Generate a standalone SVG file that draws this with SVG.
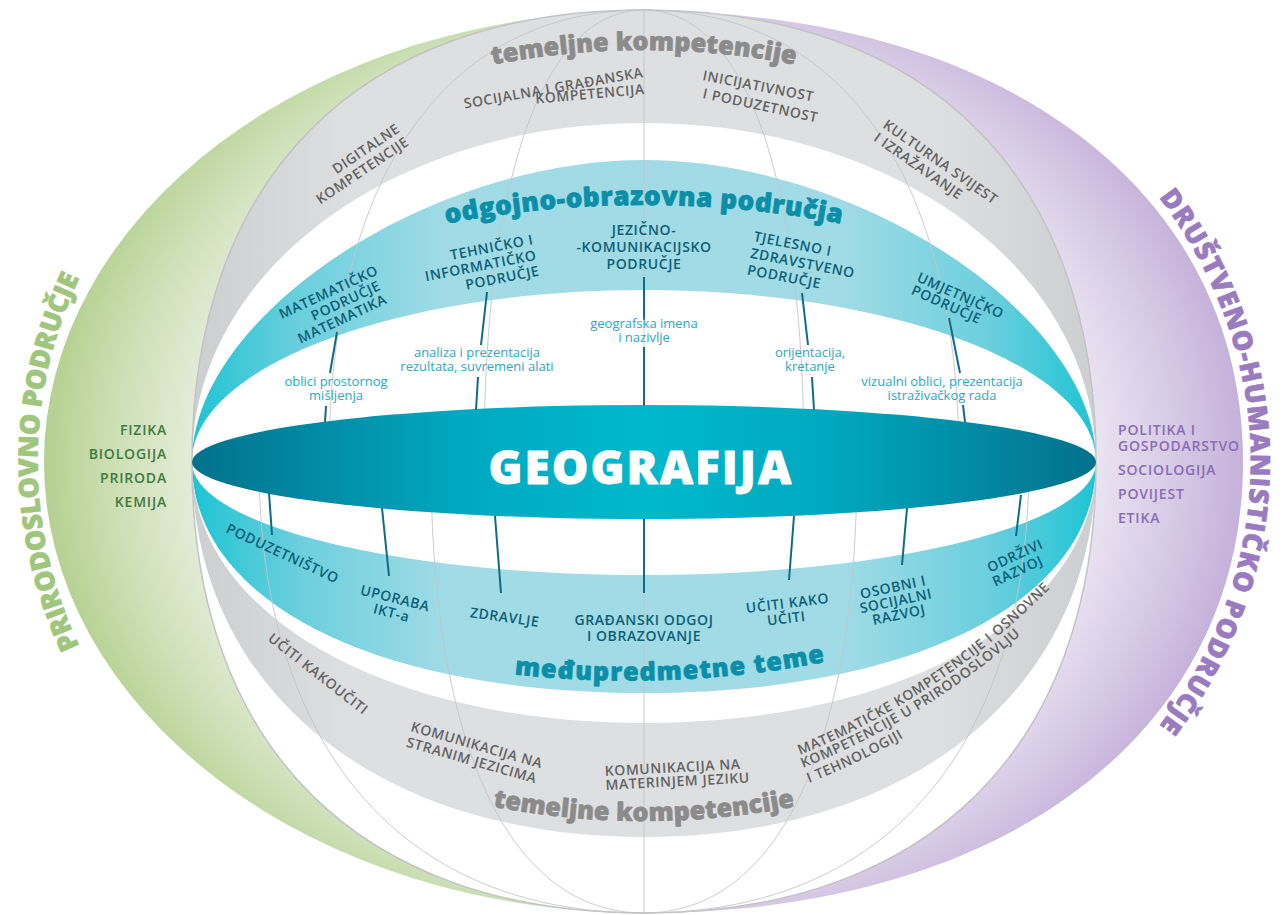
<svg xmlns="http://www.w3.org/2000/svg" width="1283" height="915" viewBox="0 0 1283 915">
<defs>
<radialGradient id="gGreen" gradientUnits="userSpaceOnUse" cx="644" cy="462" r="600" gradientTransform="translate(0 69.3) scale(1 0.85)">
<stop offset="0.7" stop-color="#eef3e7"/><stop offset="0.76" stop-color="#e3ebd6"/><stop offset="0.88" stop-color="#cde0b6"/><stop offset="1" stop-color="#b5d091"/>
</radialGradient>
<radialGradient id="gPurple" gradientUnits="userSpaceOnUse" cx="644" cy="462" r="600" gradientTransform="translate(0 69.3) scale(1 0.85)">
<stop offset="0.7" stop-color="#f2eef7"/><stop offset="0.76" stop-color="#e9e2f1"/><stop offset="0.88" stop-color="#d8cbe6"/><stop offset="1" stop-color="#c5b1da"/>
</radialGradient>
<linearGradient id="gGray" x1="0" y1="0" x2="1" y2="0">
<stop offset="0" stop-color="#cdced0"/><stop offset="0.18" stop-color="#dedfe1"/><stop offset="0.82" stop-color="#dedfe1"/><stop offset="1" stop-color="#cdced0"/>
</linearGradient>
<linearGradient id="gTeal" x1="0" y1="0" x2="1" y2="0">
<stop offset="0" stop-color="#1ec4d4"/><stop offset="0.12" stop-color="#6ccfdd"/><stop offset="0.28" stop-color="#a0dbe6"/><stop offset="0.72" stop-color="#a0dbe6"/><stop offset="0.88" stop-color="#6ccfdd"/><stop offset="1" stop-color="#1ec4d4"/>
</linearGradient>
<linearGradient id="gGeo" x1="0" y1="0" x2="1" y2="0">
<stop offset="0" stop-color="#03718c"/><stop offset="0.3" stop-color="#00a9c0"/><stop offset="0.5" stop-color="#00b8cc"/><stop offset="0.7" stop-color="#00a9c0"/><stop offset="1" stop-color="#03718c"/>
</linearGradient>
<path id="pGreen" d="M103,690 A606,505 0 0 1 103,234"/>
<path id="pPurple" d="M1145,180 A607,500 0 0 1 1145,744"/>
<path id="pTopHead" d="M400,88 Q644,12 888,88"/>
<path id="pBotHead" d="M400,783 Q644,859 888,783"/>
<path id="pOdg" d="M420,229 Q644,181 868,229"/>
<path id="pMed" d="M480,670 A480,215 0 0 0 860,654"/>
<path id="pM1" d="M800,755 A747,747 0 0 0 1108.6,521.9"/>
<path id="pM2" d="M803,768 A761,761 0 0 0 1118,532.5"/>
<path id="pM3" d="M809,783 A777,777 0 0 0 1019.6,657.2"/>
</defs>
<style>
text{font-family:"Open Sans","Liberation Sans",sans-serif;}
.gk{fill:#636363;font-size:14px;font-weight:600;letter-spacing:0.6px;}
.ot{fill:#0d5f77;font-size:14px;font-weight:600;letter-spacing:0.6px;}
.nt{fill:#2aa8bf;font-size:13px;font-weight:400;}
.hdg{fill:#8b8b8b;stroke:#8b8b8b;stroke-width:0.8px;stroke-linejoin:round;font-size:25px;font-weight:800;letter-spacing:0.2px;}
.hdt{fill:#0b8ea7;stroke:#0b8ea7;stroke-width:0.8px;stroke-linejoin:round;font-weight:800;}
.side{font-size:27px;font-weight:800;stroke-width:0.6px;stroke-linejoin:round;}
.glist{fill:#3f7b3f;font-size:14px;font-weight:600;letter-spacing:0.8px;}
.plist{fill:#8a6cb6;font-size:14px;font-weight:600;letter-spacing:0.8px;}
.mer{fill:none;stroke:#c4c5c7;stroke-width:0.9;}
#connectors path{fill:none;stroke:#0e6c87;stroke-width:2;}
</style>

<g id="prirodoslovno">
<path d="M644,11 A600,451 0 0 0 644,913 Z" fill="url(#gGreen)"/>
<text class="side" fill="#9fc67d" stroke="#9fc67d" letter-spacing="-0.3"><textPath href="#pGreen" startOffset="50%" text-anchor="middle">PRIRODOSLOVNO PODRUČJE</textPath></text>
<text class="glist" text-anchor="end"><tspan x="167" y="435">FIZIKA</tspan><tspan x="167" y="459">BIOLOGIJA</tspan><tspan x="167" y="483">PRIRODA</tspan><tspan x="167" y="507">KEMIJA</tspan></text>
</g>

<g id="drustveno-humanisticko">
<path d="M644,11 C1004,11 1243,191 1243,462 C1243,733 1004,913 644,913 Z" fill="url(#gPurple)"/>
<text class="side" fill="#9a7bc0" stroke="#9a7bc0" letter-spacing="1"><textPath href="#pPurple" startOffset="50%" text-anchor="middle">DRUŠTVENO-HUMANISTIČKO PODRUČJE</textPath></text>
<text class="plist"><tspan x="1118" y="435">POLITIKA I</tspan><tspan x="1118" y="451">GOSPODARSTVO</tspan><tspan x="1118" y="475">SOCIOLOGIJA</tspan><tspan x="1118" y="499">POVIJEST</tspan><tspan x="1118" y="523">ETIKA</tspan></text>
</g>

<g id="globe">
<path d="M192,462 C192,177 359,10 644,10 C929,10 1096,177 1096,462 C1096,747 929,913 644,913 C359,913 192,747 192,462 Z" fill="#fff"/>
<path id="band-temeljne-top" d="M192,462 C192,177 359,10 644,10 C929,10 1096,177 1096,462 C1096,272 897,123 644,123 C391,123 192,272 192,462 Z" fill="url(#gGray)"/>
<path id="band-odgojno" d="M192,462 C192,317 427,160 644,160 C861,160 1096,317 1096,462 C1096,367 893.5,290 644,290 C394.5,290 192,367 192,462 Z" fill="url(#gTeal)"/>
<path id="band-medupredmetne" d="M192,462 C192,524 394.5,575 644,575 C893.5,575 1096,524 1096,462 C1096,601 915,693 644,693 C373,693 192,601 192,462 Z" fill="url(#gTeal)"/>
<path id="band-temeljne-bottom" d="M192,462 C192,613 382,723 644,723 C906,723 1096,613 1096,462 C1096,687 915,837 644,837 C373,837 192,687 192,462 Z" fill="url(#gGray)"/>
</g>

<g id="meridians">
<path class="mer" d="M644,10 L644,913"/>
<path class="mer" d="M644,10 C543,10 484,177 484,462"/>
<path class="mer" d="M644,10 C745,10 804,177 804,462"/>
<path class="mer" d="M644,10 C445,10 329,177 329,462"/>
<path class="mer" d="M644,10 C843,10 959,177 959,462"/>
<path class="mer" d="M431,462 C431,747 510,913 644,913"/>
<path class="mer" d="M857,462 C857,747 778,913 644,913"/>
<path class="mer" d="M259,462 C259,747 401,913 644,913"/>
<path class="mer" d="M1029,462 C1029,747 887,913 644,913"/>
<path d="M192,462 C192,177 359,10 644,10 C929,10 1096,177 1096,462 C1096,747 929,913 644,913 C359,913 192,747 192,462 Z" fill="none" stroke="#c2c3c5" stroke-width="1.5"/>
</g>

<g id="geografija">
<ellipse cx="644" cy="462" rx="452" ry="57" fill="url(#gGeo)"/>
<text x="641" y="484" text-anchor="middle" font-size="46" font-weight="800" letter-spacing="2" fill="#ffffff" stroke="#ffffff" stroke-width="0.8" stroke-linejoin="round">GEOGRAFIJA</text>
</g>

<g id="connectors">
<path d="M337,332 L330,373 M326,406 L325,422"/>
<path d="M487,292 L481,345 M478,377 L476,410"/>
<path d="M644,277 L644,320 M644,347 L644,406"/>
<path d="M802,293 L808,345 M812,377 L814,410"/>
<path d="M949,318 L960,373 M963,405 L965,422"/>
<path d="M269,493 L272,535"/>
<path d="M382,508 L389,576"/>
<path d="M495,516 L501,593"/>
<path d="M644,519 L644,593"/>
<path d="M794,516 L789,580"/>
<path d="M907,508 L902,565"/>
<path d="M1021,495 L1016,536"/>
</g>

<g id="heading-temeljne-top"><text class="hdg"><textPath href="#pTopHead" startOffset="50%" text-anchor="middle">temeljne kompetencije</textPath></text></g>
<g id="heading-odgojno"><text class="hdt" font-size="26" letter-spacing="0.6"><textPath href="#pOdg" startOffset="50%" text-anchor="middle">odgojno-obrazovna područja</textPath></text></g>
<g id="heading-medupredmetne"><text class="hdt" font-size="25" letter-spacing="1.2"><textPath href="#pMed" startOffset="50%" text-anchor="middle">međupredmetne teme</textPath></text></g>
<g id="heading-temeljne-bottom"><text class="hdg"><textPath href="#pBotHead" startOffset="50%" text-anchor="middle">temeljne kompetencije</textPath></text></g>

<g id="kt-digitalne"><text class="gk" transform="translate(401,131) rotate(-34)" text-anchor="end"><tspan x="0" y="0">DIGITALNE</tspan><tspan x="0" y="16">KOMPETENCIJE</tspan></text></g>
<g id="kt-socijalna"><text class="gk" transform="translate(644,77) rotate(-10)" text-anchor="end">SOCIJALNA I GRAĐANSKA</text><text class="gk" transform="translate(645,94) rotate(-5)" text-anchor="end">KOMPETENCIJA</text></g>
<g id="kt-inicijativnost"><text class="gk" transform="translate(702,80) rotate(11)">INICIJATIVNOST</text><text class="gk" transform="translate(702,98) rotate(12)">I PODUZETNOST</text></g>
<g id="kt-kulturna"><text class="gk" transform="translate(882,127) rotate(35)"><tspan x="0" y="0">KULTURNA SVIJEST</tspan><tspan x="0" y="16">I IZRAŽAVANJE</tspan></text></g>

<g id="oo-matematicko"><text class="ot" transform="translate(338,303) rotate(-25)" text-anchor="middle"><tspan x="-4" y="-9">MATEMATIČKO</tspan><tspan x="8" y="6">PODRUČJE</tspan><tspan x="-3" y="21">MATEMATIKA</tspan></text></g>
<g id="oo-tehnicko"><text class="ot" transform="translate(534,244) rotate(-11)" text-anchor="end"><tspan x="0" y="0">TEHNIČKO I</tspan><tspan x="0" y="16">INFORMATIČKO</tspan><tspan x="0" y="32">PODRUČJE</tspan></text></g>
<g id="oo-jezicno"><text class="ot" text-anchor="middle"><tspan x="644" y="235">JEZIČNO-</tspan><tspan x="644" y="252">-KOMUNIKACIJSKO</tspan><tspan x="644" y="269">PODRUČJE</tspan></text></g>
<g id="oo-tjelesno"><text class="ot" transform="translate(753,241) rotate(11)"><tspan x="0" y="0">TJELESNO I</tspan><tspan x="0" y="17">ZDRAVSTVENO</tspan><tspan x="0" y="34">PODRUČJE</tspan></text></g>
<g id="oo-umjetnicko"><text class="ot" transform="translate(916,281) rotate(24)"><tspan x="0" y="0">UMJETNIČKO</tspan><tspan x="0" y="14">PODRUČJE</tspan></text></g>

<g id="note-oblici"><text class="nt" text-anchor="middle"><tspan x="336" y="386">oblici prostornog</tspan><tspan x="336" y="400">mišljenja</tspan></text></g>
<g id="note-analiza"><text class="nt" text-anchor="middle"><tspan x="477" y="357">analiza i prezentacija</tspan><tspan x="477" y="371">rezultata, suvremeni alati</tspan></text></g>
<g id="note-geografska"><text class="nt" text-anchor="middle"><tspan x="644" y="328">geografska imena</tspan><tspan x="644" y="342">i nazivlje</tspan></text></g>
<g id="note-orijentacija"><text class="nt" text-anchor="middle"><tspan x="810" y="357">orijentacija,</tspan><tspan x="810" y="371">kretanje</tspan></text></g>
<g id="note-vizualni"><text class="nt" text-anchor="middle"><tspan x="942" y="386">vizualni oblici, prezentacija</tspan><tspan x="942" y="400">istraživačkog rada</tspan></text></g>

<g id="mt-poduzetnistvo"><text class="ot" transform="translate(225,532) rotate(25)">PODUZETNIŠTVO</text></g>
<g id="mt-uporaba"><text class="ot" transform="translate(394,603) rotate(14)" text-anchor="middle"><tspan x="0" y="0">UPORABA</tspan><tspan x="0" y="15">IKT-a</tspan></text></g>
<g id="mt-zdravlje"><text class="ot" transform="translate(504,622) rotate(8)" text-anchor="middle">ZDRAVLJE</text></g>
<g id="mt-gradanski"><text class="ot" text-anchor="middle"><tspan x="644" y="625">GRAĐANSKI ODGOJ</tspan><tspan x="644" y="641">I OBRAZOVANJE</tspan></text></g>
<g id="mt-uciti"><text class="ot" transform="translate(788,608) rotate(-7)" text-anchor="middle"><tspan x="0" y="0">UČITI KAKO</tspan><tspan x="-3" y="15">UČITI</tspan></text></g>
<g id="mt-osobni"><text class="ot" transform="translate(894,592) rotate(-12)" text-anchor="middle"><tspan x="0" y="0">OSOBNI I</tspan><tspan x="0" y="14">SOCIJALNI</tspan><tspan x="0" y="28">RAZVOJ</tspan></text></g>
<g id="mt-odrzivi"><text class="ot" transform="translate(1017,560) rotate(-25)" text-anchor="middle"><tspan x="0" y="0">ODRŽIVI</tspan><tspan x="-4" y="15">RAZVOJ</tspan></text></g>

<g id="kb-uciti"><text class="gk" transform="translate(267,640) rotate(38)">UČITI KAKOUČITI</text></g>
<g id="kb-stranim"><text class="gk" transform="translate(410,731) rotate(16)"><tspan x="0" y="0">KOMUNIKACIJA NA</tspan><tspan x="0" y="16">STRANIM JEZICIMA</tspan></text></g>
<g id="kb-materinjem"><text class="gk" transform="translate(605,776) rotate(-3)"><tspan x="0" y="0">KOMUNIKACIJA NA</tspan><tspan x="0" y="14">MATERINJEM JEZIKU</tspan></text></g>
<g id="kb-matematicke"><text class="gk"><textPath href="#pM1">MATEMATIČKE KOMPETENCIJE I OSNOVNE</textPath></text><text class="gk"><textPath href="#pM2">KOMPETENCIJE U PRIRODOSLOVLJU</textPath></text><text class="gk"><textPath href="#pM3">I TEHNOLOGIJI</textPath></text></g>
</svg>
